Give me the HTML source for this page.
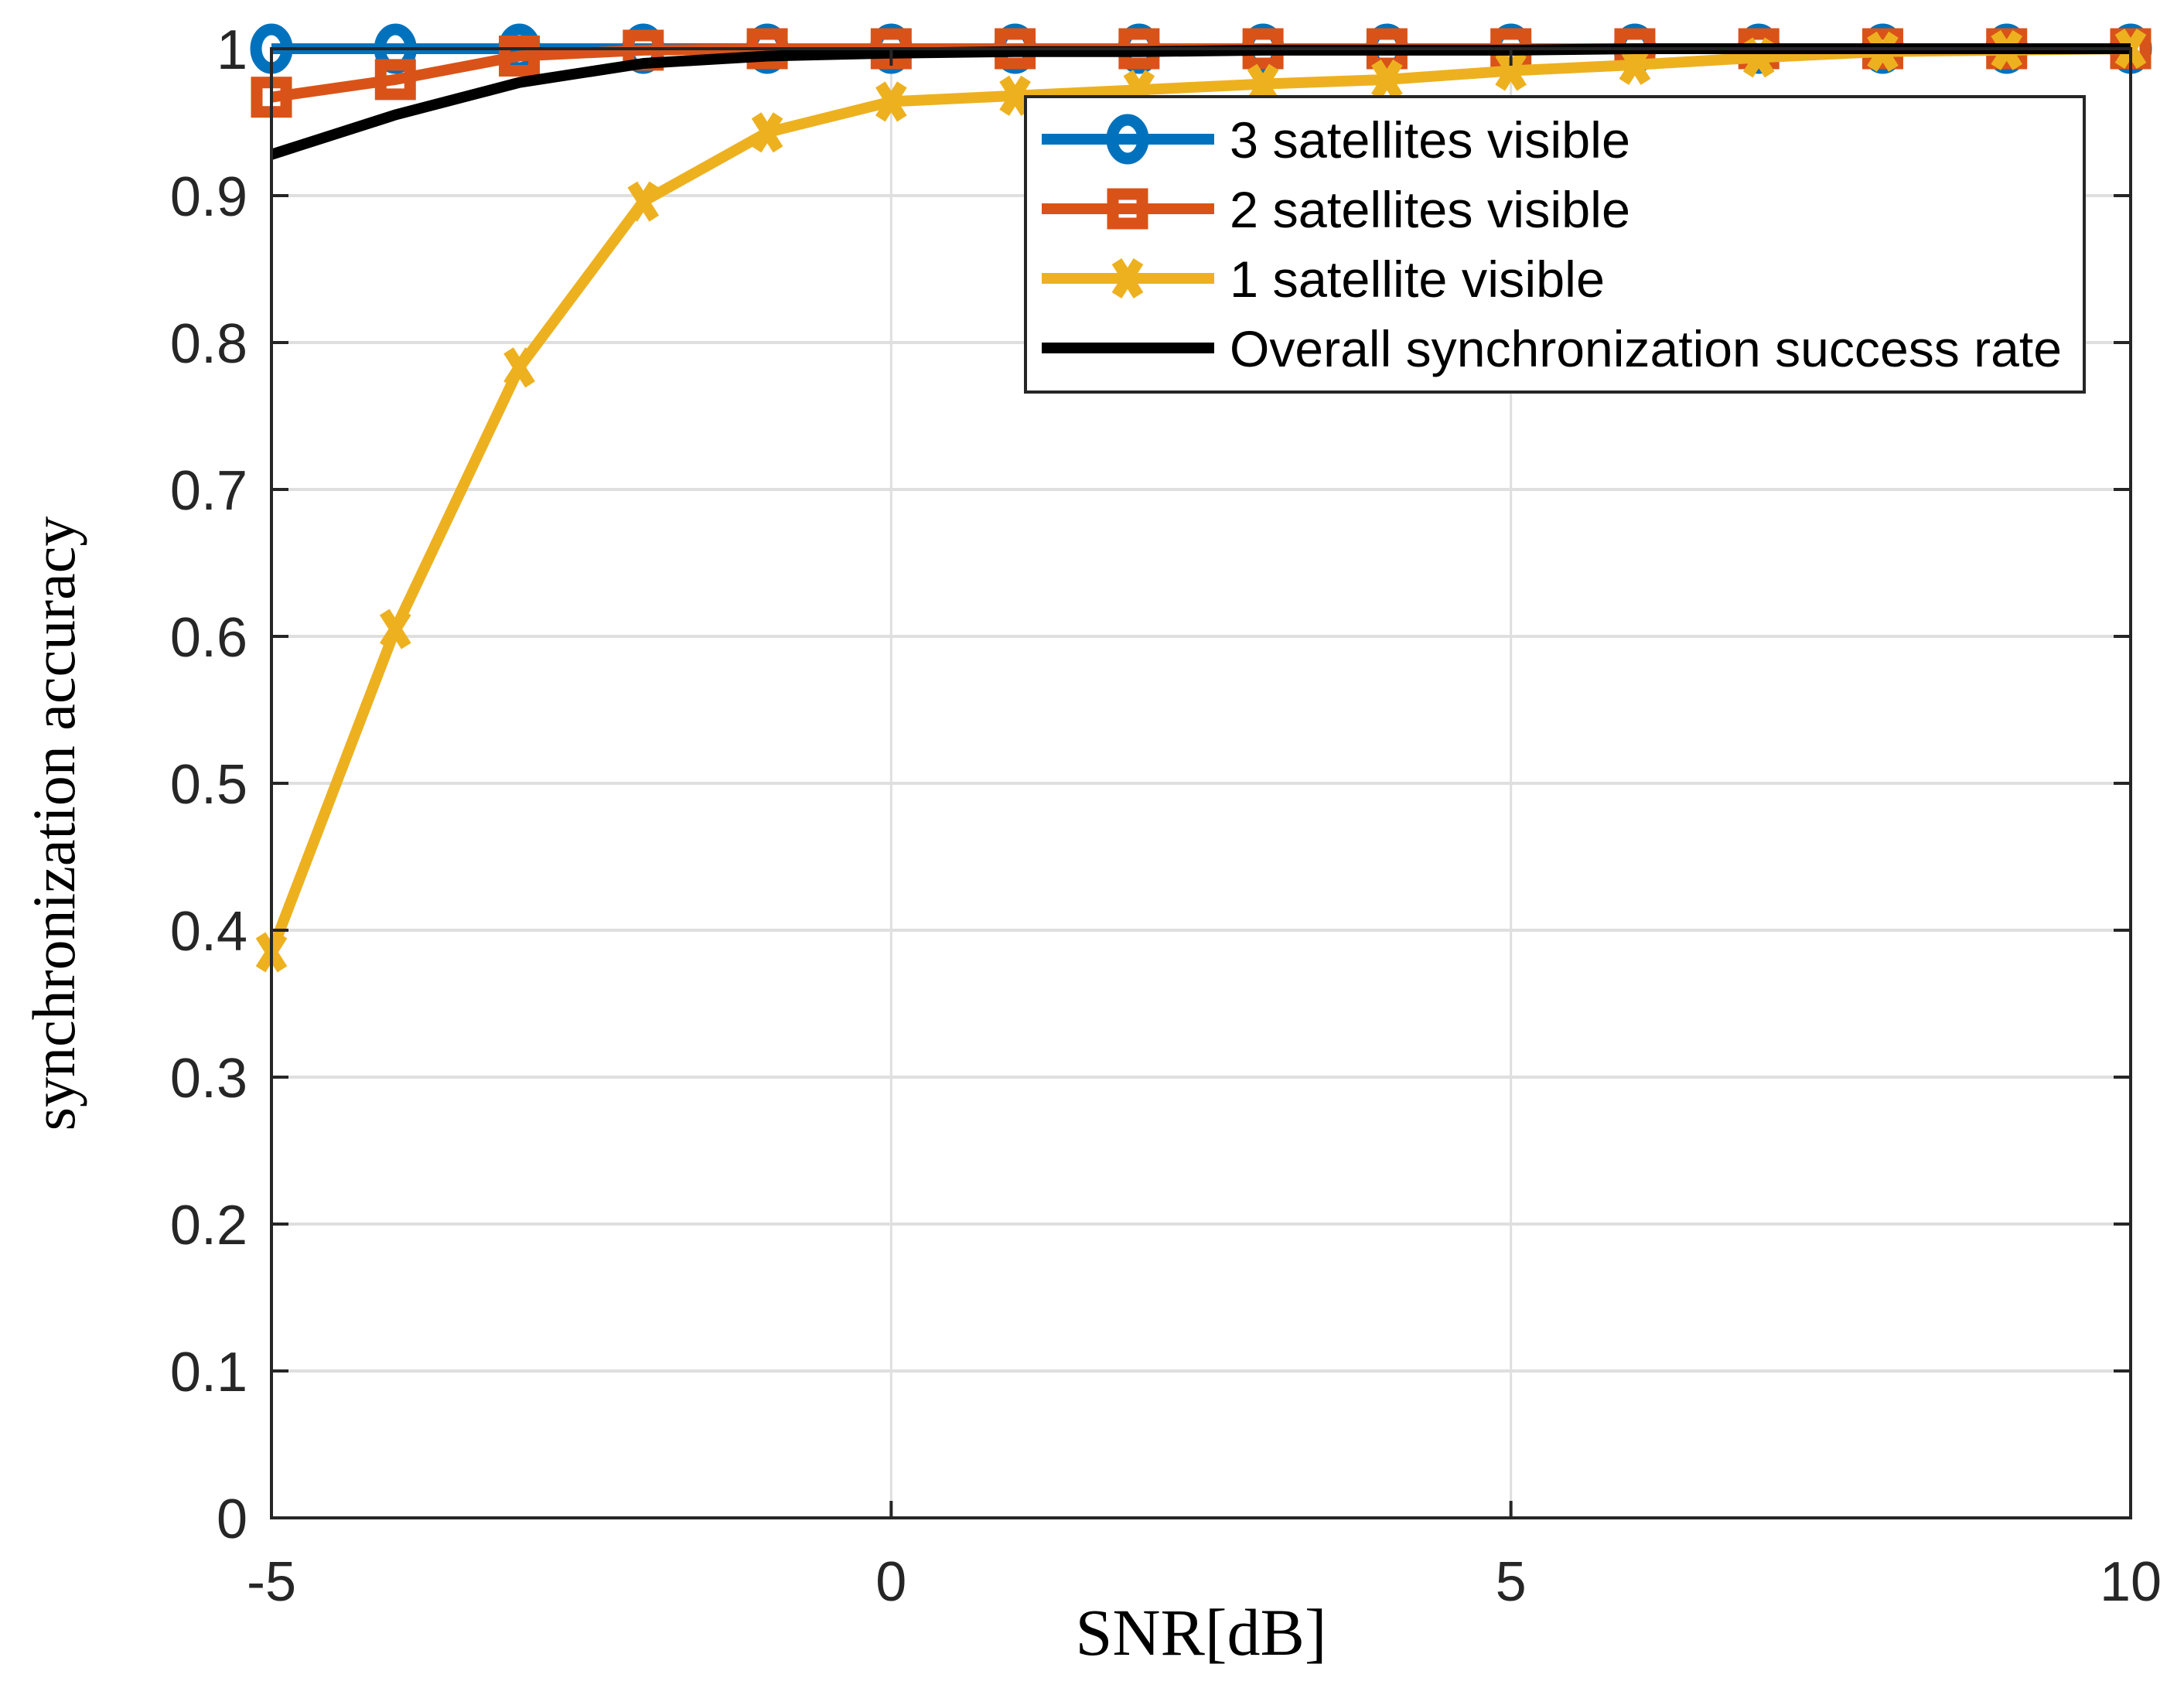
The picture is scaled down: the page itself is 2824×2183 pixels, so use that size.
<!DOCTYPE html>
<html><head><meta charset="utf-8"><style>html,body{margin:0;padding:0;background:#fff}svg{display:block}</style></head>
<body>
<svg id="chart" width="2824" height="2183" xmlns="http://www.w3.org/2000/svg">
<rect width="2824" height="2183" fill="#fff"/>
<g id="grid"></g><g id="series"></g><g id="axes"></g><g id="legend"></g>
</svg>
<script>
const snr = [-5,-4,-3,-2,-1,0,1,2,3,4,5,6,7,8,9,10];
const sat3 = [1,1,1,1,1,1,1,1,1,1,1,1,1,1,1,1];
const sat2 = [0.967,0.979,0.995,0.999,1,1,1,1,1,1,1,1,1,1,1,1];
const sat1 = [0.385,0.605,0.783,0.896,0.943,0.964,0.968,0.972,0.976,0.979,0.985,0.989,0.994,0.998,0.999,1];
const overall = [0.928,0.955,0.977,0.99,0.995,0.997,0.998,0.998,0.999,0.999,0.999,1,1,1,1,1];
const xTicks = [-5,0,5,10];
const yTicks = [0,0.1,0.2,0.3,0.4,0.5,0.6,0.7,0.8,0.9,1];
const yTickLabels = ["0","0.1","0.2","0.3","0.4","0.5","0.6","0.7","0.8","0.9","1"];
const legendLabels = ["3 satellites visible","2 satellites visible","1 satellite visible","Overall synchronization success rate"];

const NS="http://www.w3.org/2000/svg";
const L=351,R=2755,T=63,B=1963;
function xs(v){return L+(v+5)/15*(R-L);}
function ys(v){return B-v*(B-T);}
function mk(tag,attrs,parent){const e=document.createElementNS(NS,tag);for(const k in attrs)e.setAttribute(k,attrs[k]);parent.appendChild(e);return e;}
const grid=document.getElementById('grid'),axes=document.getElementById('axes'),series=document.getElementById('series'),legend=document.getElementById('legend');

xTicks.forEach(t=>{
  if(t>-5&&t<10){const g=mk('line',{x1:xs(t),x2:xs(t),y1:T,y2:B,stroke:'#dfdfdf','stroke-width':3},grid);
  
  }
  const tx=mk('text',{x:xs(t),y:2070,'text-anchor':'middle','font-family':'Liberation Sans, Arial, sans-serif','font-size':72,fill:'#262626'},axes);
  tx.textContent=t;
  
  
  [[B,B-22],[T,T+22]].forEach(p=>{const tk=mk('line',{x1:xs(t),x2:xs(t),y1:p[0],y2:p[1],stroke:'#262626','stroke-width':4},axes);
  
  });
});
yTicks.forEach((t,i)=>{
  if(t>0&&t<1){const g=mk('line',{x1:L,x2:R,y1:ys(t),y2:ys(t),stroke:'#dfdfdf','stroke-width':4},grid);
  
  }
  const tx=mk('text',{x:320,y:ys(t)+26,'text-anchor':'end','font-family':'Liberation Sans, Arial, sans-serif','font-size':72,fill:'#262626'},axes);
  tx.textContent=yTickLabels[i];
  
  
  [[L,L+22],[R,R-22]].forEach(p=>{const tk=mk('line',{x1:p[0],x2:p[1],y1:ys(t),y2:ys(t),stroke:'#262626','stroke-width':4},axes);
  
  });
});
const box=mk('rect',{x:L,y:T,width:R-L,height:B-T,fill:'none',stroke:'#262626','stroke-width':4},axes);


const xl=mk('text',{x:(L+R)/2,y:2140,'text-anchor':'middle','font-family':'Liberation Serif, Times New Roman, serif','font-size':86,fill:'#000'},axes);
xl.textContent='SNR[dB]';


const yl=mk('text',{x:0,y:0,transform:'translate(96,1065) rotate(-90)','text-anchor':'middle','font-family':'Liberation Serif, Times New Roman, serif','font-size':78,fill:'#000'},axes);
yl.textContent='synchronization accuracy';



function marker(type,cx,cy,color,parent){
  let m;
  if(type==='o'){m=mk('ellipse',{cx:cx,cy:cy,rx:20,ry:25,fill:'none',stroke:color,'stroke-width':15},parent);}
  else if(type==='s'){m=mk('rect',{x:cx-19,y:cy-19,width:38,height:38,fill:'none',stroke:color,'stroke-width':15},parent);}
  else if(type==='x'){m=mk('path',{d:`M${cx-14},${cy-22}L${cx+14},${cy+22}M${cx+14},${cy-22}L${cx-14},${cy+22}`,stroke:color,'stroke-width':15,fill:'none'},parent);}
  return m;
}
const defs=[[sat3,'#0072bd','o','series-3-satellites'],[sat2,'#d95319','s','series-2-satellites'],[sat1,'#edb120','x','series-1-satellite'],[overall,'#000000',null,'series-overall']];
defs.forEach(d=>{
  const g=mk('g',{},series);
  
  
  const pts=snr.map((x,i)=>xs(x)+','+ys(d[0][i])).join(' ');
  const pl=mk('polyline',{points:pts,fill:'none',stroke:d[1],'stroke-width':14,'stroke-linejoin':'round'},g);
  
  
  if(d[2]) snr.forEach((x,i)=>{const m=marker(d[2],xs(x),ys(d[0][i]),d[1],g);
    
    });
});
const lb=mk('rect',{x:1326,y:125,width:1369,height:382,fill:'#fff',stroke:'#262626','stroke-width':4},legend);


const rows=[180,270,360,450];
defs.forEach((d,i)=>{
  const g=mk('g',{},legend);
  
  
  mk('line',{x1:1347,x2:1570,y1:rows[i],y2:rows[i],stroke:d[1],'stroke-width':14},g);
  if(d[2]) marker(d[2],1458,rows[i],d[1],g);
  const t=mk('text',{x:1590,y:rows[i]+24,'font-family':'Liberation Sans, Arial, sans-serif','font-size':66,fill:'#000',textLength:[518,518,485,1076][i],lengthAdjust:'spacingAndGlyphs'},g);
  t.textContent=legendLabels[i];
  
  
});
</script>
</body></html>
